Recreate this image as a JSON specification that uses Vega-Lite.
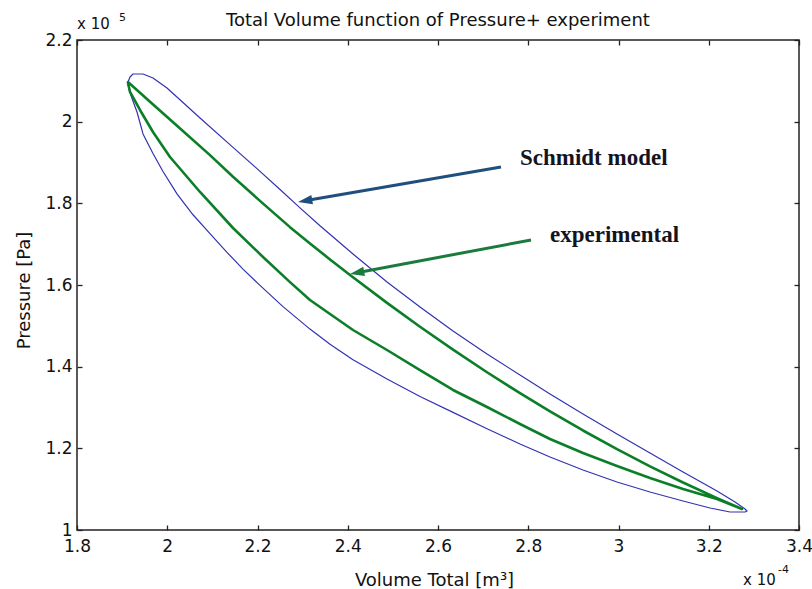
{
  "$schema": "https://vega.github.io/schema/vega-lite/v6.json",
  "width": 722,
  "height": 490,
  "autosize": "none",
  "padding": {"left": 77, "top": 40, "right": 13, "bottom": 59},
  "background": "white",
  "title": {"text": "Total Volume function of Pressure+ experiment", "font": "DejaVu Sans", "fontSize": 18, "fontWeight": "normal", "color": "#111", "anchor": "middle", "dy": 22},
  "config": {
    "view": {"stroke": "#222", "strokeWidth": 1.5},
    "axis": {"grid": false, "domain": false, "tickColor": "#222", "tickWidth": 1.3, "tickSize": -5, "labelFont": "DejaVu Sans", "labelFontSize": 17, "labelColor": "#111", "titleFont": "DejaVu Sans", "titleFontSize": 18, "titleFontWeight": "normal", "titleColor": "#111", "labelFlush": false, "labelOverlap": false, "labelBound": false}
  },
  "resolve": {"axis": {"x": "independent", "y": "independent"}},
  "datasets": {
    "curves": [
      {"model": "Schmidt model", "order": 0, "volume": 1.9130, "pressure": 2.0971},
      {"model": "Schmidt model", "order": 1, "volume": 1.9175, "pressure": 2.1094},
      {"model": "Schmidt model", "order": 2, "volume": 1.9241, "pressure": 2.1167},
      {"model": "Schmidt model", "order": 3, "volume": 1.9463, "pressure": 2.1167},
      {"model": "Schmidt model", "order": 4, "volume": 1.9684, "pressure": 2.1069},
      {"model": "Schmidt model", "order": 5, "volume": 1.9994, "pressure": 2.0824},
      {"model": "Schmidt model", "order": 6, "volume": 2.0349, "pressure": 2.0470},
      {"model": "Schmidt model", "order": 7, "volume": 2.0726, "pressure": 2.0090},
      {"model": "Schmidt model", "order": 8, "volume": 2.1457, "pressure": 1.9370},
      {"model": "Schmidt model", "order": 9, "volume": 2.1989, "pressure": 1.8850},
      {"model": "Schmidt model", "order": 10, "volume": 2.2499, "pressure": 1.8340},
      {"model": "Schmidt model", "order": 11, "volume": 2.2942, "pressure": 1.7890},
      {"model": "Schmidt model", "order": 12, "volume": 2.3385, "pressure": 1.7450},
      {"model": "Schmidt model", "order": 13, "volume": 2.4116, "pressure": 1.6760},
      {"model": "Schmidt model", "order": 14, "volume": 2.4870, "pressure": 1.6073},
      {"model": "Schmidt model", "order": 15, "volume": 2.5601, "pressure": 1.5461},
      {"model": "Schmidt model", "order": 16, "volume": 2.6333, "pressure": 1.4873},
      {"model": "Schmidt model", "order": 17, "volume": 2.7086, "pressure": 1.4310},
      {"model": "Schmidt model", "order": 18, "volume": 2.7817, "pressure": 1.3796},
      {"model": "Schmidt model", "order": 19, "volume": 2.8482, "pressure": 1.3331},
      {"model": "Schmidt model", "order": 20, "volume": 2.9213, "pressure": 1.2841},
      {"model": "Schmidt model", "order": 21, "volume": 2.9967, "pressure": 1.2351},
      {"model": "Schmidt model", "order": 22, "volume": 3.0698, "pressure": 1.1886},
      {"model": "Schmidt model", "order": 23, "volume": 3.1430, "pressure": 1.1420},
      {"model": "Schmidt model", "order": 24, "volume": 3.2183, "pressure": 1.0955},
      {"model": "Schmidt model", "order": 25, "volume": 3.2582, "pressure": 1.0686},
      {"model": "Schmidt model", "order": 26, "volume": 3.2804, "pressure": 1.0514},
      {"model": "Schmidt model", "order": 27, "volume": 3.2848, "pressure": 1.0465},
      {"model": "Schmidt model", "order": 28, "volume": 3.2804, "pressure": 1.0441},
      {"model": "Schmidt model", "order": 29, "volume": 3.2471, "pressure": 1.0441},
      {"model": "Schmidt model", "order": 30, "volume": 3.2028, "pressure": 1.0539},
      {"model": "Schmidt model", "order": 31, "volume": 3.1430, "pressure": 1.0710},
      {"model": "Schmidt model", "order": 32, "volume": 3.0698, "pressure": 1.0930},
      {"model": "Schmidt model", "order": 33, "volume": 2.9967, "pressure": 1.1175},
      {"model": "Schmidt model", "order": 34, "volume": 2.9213, "pressure": 1.1469},
      {"model": "Schmidt model", "order": 35, "volume": 2.8482, "pressure": 1.1788},
      {"model": "Schmidt model", "order": 36, "volume": 2.7817, "pressure": 1.2106},
      {"model": "Schmidt model", "order": 37, "volume": 2.7086, "pressure": 1.2480},
      {"model": "Schmidt model", "order": 38, "volume": 2.6333, "pressure": 1.2880},
      {"model": "Schmidt model", "order": 39, "volume": 2.5601, "pressure": 1.3270},
      {"model": "Schmidt model", "order": 40, "volume": 2.4870, "pressure": 1.3700},
      {"model": "Schmidt model", "order": 41, "volume": 2.4116, "pressure": 1.4170},
      {"model": "Schmidt model", "order": 42, "volume": 2.3607, "pressure": 1.4550},
      {"model": "Schmidt model", "order": 43, "volume": 2.3163, "pressure": 1.4920},
      {"model": "Schmidt model", "order": 44, "volume": 2.2565, "pressure": 1.5470},
      {"model": "Schmidt model", "order": 45, "volume": 2.2055, "pressure": 1.5990},
      {"model": "Schmidt model", "order": 46, "volume": 2.1679, "pressure": 1.6390},
      {"model": "Schmidt model", "order": 47, "volume": 2.1324, "pressure": 1.6800},
      {"model": "Schmidt model", "order": 48, "volume": 2.0947, "pressure": 1.7260},
      {"model": "Schmidt model", "order": 49, "volume": 2.0571, "pressure": 1.7720},
      {"model": "Schmidt model", "order": 50, "volume": 2.0216, "pressure": 1.8230},
      {"model": "Schmidt model", "order": 51, "volume": 1.9906, "pressure": 1.8780},
      {"model": "Schmidt model", "order": 52, "volume": 1.9684, "pressure": 1.9220},
      {"model": "Schmidt model", "order": 53, "volume": 1.9463, "pressure": 1.9700},
      {"model": "Schmidt model", "order": 54, "volume": 1.9330, "pressure": 2.0237},
      {"model": "Schmidt model", "order": 55, "volume": 1.9175, "pressure": 2.0702},
      {"model": "Schmidt model", "order": 56, "volume": 1.9130, "pressure": 2.0922},
      {"model": "Schmidt model", "order": 57, "volume": 1.9130, "pressure": 2.0971},
      {"model": "experimental", "order": 0, "volume": 1.9130, "pressure": 2.0971},
      {"model": "experimental", "order": 1, "volume": 1.9618, "pressure": 2.0490},
      {"model": "experimental", "order": 2, "volume": 2.0216, "pressure": 1.9900},
      {"model": "experimental", "order": 3, "volume": 2.0947, "pressure": 1.9180},
      {"model": "experimental", "order": 4, "volume": 2.1457, "pressure": 1.8650},
      {"model": "experimental", "order": 5, "volume": 2.2055, "pressure": 1.8060},
      {"model": "experimental", "order": 6, "volume": 2.2720, "pressure": 1.7417},
      {"model": "experimental", "order": 7, "volume": 2.3163, "pressure": 1.7018},
      {"model": "experimental", "order": 8, "volume": 2.3607, "pressure": 1.6626},
      {"model": "experimental", "order": 9, "volume": 2.4050, "pressure": 1.6245},
      {"model": "experimental", "order": 10, "volume": 2.4870, "pressure": 1.5562},
      {"model": "experimental", "order": 11, "volume": 2.5601, "pressure": 1.4977},
      {"model": "experimental", "order": 12, "volume": 2.6333, "pressure": 1.4416},
      {"model": "experimental", "order": 13, "volume": 2.7086, "pressure": 1.3863},
      {"model": "experimental", "order": 14, "volume": 2.7817, "pressure": 1.3350},
      {"model": "experimental", "order": 15, "volume": 2.8482, "pressure": 1.2905},
      {"model": "experimental", "order": 16, "volume": 2.9213, "pressure": 1.2437},
      {"model": "experimental", "order": 17, "volume": 2.9967, "pressure": 1.1980},
      {"model": "experimental", "order": 18, "volume": 3.0698, "pressure": 1.1560},
      {"model": "experimental", "order": 19, "volume": 3.1430, "pressure": 1.1164},
      {"model": "experimental", "order": 20, "volume": 3.2183, "pressure": 1.0781},
      {"model": "experimental", "order": 21, "volume": 3.2737, "pressure": 1.0514},
      {"model": "experimental", "order": 22, "volume": 3.2183, "pressure": 1.0759},
      {"model": "experimental", "order": 23, "volume": 3.1430, "pressure": 1.1004},
      {"model": "experimental", "order": 24, "volume": 3.0698, "pressure": 1.1273},
      {"model": "experimental", "order": 25, "volume": 2.9967, "pressure": 1.1567},
      {"model": "experimental", "order": 26, "volume": 2.9213, "pressure": 1.1886},
      {"model": "experimental", "order": 27, "volume": 2.8482, "pressure": 1.2229},
      {"model": "experimental", "order": 28, "volume": 2.7817, "pressure": 1.2596},
      {"model": "experimental", "order": 29, "volume": 2.7086, "pressure": 1.3012},
      {"model": "experimental", "order": 30, "volume": 2.6333, "pressure": 1.3429},
      {"model": "experimental", "order": 31, "volume": 2.5601, "pressure": 1.3918},
      {"model": "experimental", "order": 32, "volume": 2.4870, "pressure": 1.4408},
      {"model": "experimental", "order": 33, "volume": 2.4116, "pressure": 1.4898},
      {"model": "experimental", "order": 34, "volume": 2.3607, "pressure": 1.5290},
      {"model": "experimental", "order": 35, "volume": 2.3163, "pressure": 1.5633},
      {"model": "experimental", "order": 36, "volume": 2.2720, "pressure": 1.6070},
      {"model": "experimental", "order": 37, "volume": 2.2122, "pressure": 1.6686},
      {"model": "experimental", "order": 38, "volume": 2.1457, "pressure": 1.7396},
      {"model": "experimental", "order": 39, "volume": 2.0726, "pressure": 1.8278},
      {"model": "experimental", "order": 40, "volume": 2.0061, "pressure": 1.9135},
      {"model": "experimental", "order": 41, "volume": 1.9684, "pressure": 1.9747},
      {"model": "experimental", "order": 42, "volume": 1.9396, "pressure": 2.0286},
      {"model": "experimental", "order": 43, "volume": 1.9175, "pressure": 2.0727},
      {"model": "experimental", "order": 44, "volume": 1.9130, "pressure": 2.0947}
    ]
  },
  "layer": [
    {
      "data": {"name": "curves"},
      "mark": {"type": "line", "strokeJoin": "round", "strokeCap": "round"},
      "encoding": {
        "x": {"field": "volume", "type": "quantitative", "scale": {"domain": [1.8, 3.4], "nice": false, "zero": false},
          "axis": {"orient": "bottom", "values": [1.8, 2, 2.2, 2.4, 2.6, 2.8, 3, 3.2, 3.4], "format": "~g", "labelPadding": 13, "title": "Volume Total [m³]", "titleX": 357, "titleY": 55, "titleAlign": "center", "titleBaseline": "alphabetic"}},
        "y": {"field": "pressure", "type": "quantitative", "scale": {"domain": [1, 2.2], "nice": false, "zero": false},
          "axis": {"orient": "left", "values": [1, 1.2, 1.4, 1.6, 1.8, 2, 2.2], "format": "~g", "labelPadding": 10, "title": "Pressure [Pa]", "titleAngle": -90, "titleX": -48, "titleY": 250, "titleAlign": "center", "titleBaseline": "alphabetic"}},
        "detail": {"field": "model"},
        "order": {"field": "order", "type": "quantitative"},
        "color": {"field": "model", "type": "nominal", "scale": {"domain": ["Schmidt model", "experimental"], "range": ["#3232b4", "#0b7f27"]}, "legend": null},
        "strokeWidth": {"field": "model", "type": "nominal", "scale": {"domain": ["Schmidt model", "experimental"], "range": [1.2, 2.6]}, "legend": null}
      }
    },
    {
      "data": {"values": [{}]},
      "mark": {"type": "rule", "color": "#1f4f7c", "strokeWidth": 3},
      "encoding": {
        "x": {"datum": 2.7396, "type": "quantitative", "scale": {"domain": [1.8, 3.4], "nice": false, "zero": false},
          "axis": {"orient": "top", "values": [1.8, 2, 2.2, 2.4, 2.6, 2.8, 3, 3.2, 3.4], "labels": false, "title": null}},
        "y": {"datum": 1.889, "type": "quantitative", "scale": {"domain": [1, 2.2], "nice": false, "zero": false},
          "axis": {"orient": "right", "values": [1, 1.2, 1.4, 1.6, 1.8, 2, 2.2], "labels": false, "title": null}},
        "x2": {"datum": 2.305},
        "y2": {"datum": 1.8062}
      }
    },
    {
      "data": {"values": [{}]},
      "mark": {"type": "rule", "color": "#1b7a3e", "strokeWidth": 3},
      "encoding": {
        "x": {"datum": 2.8061, "type": "quantitative", "scale": {"domain": [1.8, 3.4], "nice": false, "zero": false}, "axis": null},
        "y": {"datum": 1.7102, "type": "quantitative", "scale": {"domain": [1, 2.2], "nice": false, "zero": false}, "axis": null},
        "x2": {"datum": 2.4203},
        "y2": {"datum": 1.6301}
      }
    },
    {
      "data": {"values": [{}]},
      "mark": {"type": "point", "shape": "M0,0L0.72,2.2L-0.72,2.2Z", "size": 170, "angle": 260.2, "filled": true, "opacity": 1, "color": "#1f4f7c", "strokeWidth": 0},
      "encoding": {
        "x": {"datum": 2.2898, "type": "quantitative", "scale": {"domain": [1.8, 3.4], "nice": false, "zero": false}, "axis": null},
        "y": {"datum": 1.8033, "type": "quantitative", "scale": {"domain": [1, 2.2], "nice": false, "zero": false}, "axis": null}
      }
    },
    {
      "data": {"values": [{}]},
      "mark": {"type": "point", "shape": "M0,0L0.72,2.2L-0.72,2.2Z", "size": 170, "angle": 259.4, "filled": true, "opacity": 1, "color": "#1b7a3e", "strokeWidth": 0},
      "encoding": {
        "x": {"datum": 2.405, "type": "quantitative", "scale": {"domain": [1.8, 3.4], "nice": false, "zero": false}, "axis": null},
        "y": {"datum": 1.6269, "type": "quantitative", "scale": {"domain": [1, 2.2], "nice": false, "zero": false}, "axis": null}
      }
    },
    {
      "data": {"values": [{}]},
      "mark": {"type": "text", "text": "Schmidt model", "align": "left", "baseline": "alphabetic", "font": "Liberation Serif", "fontWeight": "bold", "fontSize": 23, "color": "#14141e"},
      "encoding": {
        "x": {"datum": 2.7817, "type": "quantitative", "scale": {"domain": [1.8, 3.4], "nice": false, "zero": false}, "axis": null},
        "y": {"datum": 1.8939, "type": "quantitative", "scale": {"domain": [1, 2.2], "nice": false, "zero": false}, "axis": null}
      }
    },
    {
      "data": {"values": [{}]},
      "mark": {"type": "text", "text": "experimental", "align": "left", "baseline": "alphabetic", "font": "Liberation Serif", "fontWeight": "bold", "fontSize": 23, "color": "#14141e"},
      "encoding": {
        "x": {"datum": 2.8482, "type": "quantitative", "scale": {"domain": [1.8, 3.4], "nice": false, "zero": false}, "axis": null},
        "y": {"datum": 1.7053, "type": "quantitative", "scale": {"domain": [1, 2.2], "nice": false, "zero": false}, "axis": null}
      }
    },
    {
      "data": {"values": [{}]},
      "mark": {"type": "text", "text": "x 10", "align": "left", "baseline": "alphabetic", "font": "DejaVu Sans", "fontSize": 15, "color": "#111"},
      "encoding": {
        "x": {"datum": 1.8, "type": "quantitative", "scale": {"domain": [1.8, 3.4], "nice": false, "zero": false}, "axis": null},
        "y": {"datum": 2.2269, "type": "quantitative", "scale": {"domain": [1, 2.2], "nice": false, "zero": false}, "axis": null}
      }
    },
    {
      "data": {"values": [{}]},
      "mark": {"type": "text", "text": "5", "align": "left", "baseline": "alphabetic", "font": "DejaVu Sans", "fontSize": 11, "color": "#111"},
      "encoding": {
        "x": {"datum": 1.8931, "type": "quantitative", "scale": {"domain": [1.8, 3.4], "nice": false, "zero": false}, "axis": null},
        "y": {"datum": 2.2465, "type": "quantitative", "scale": {"domain": [1, 2.2], "nice": false, "zero": false}, "axis": null}
      }
    },
    {
      "data": {"values": [{}]},
      "mark": {"type": "text", "text": "x 10", "align": "left", "baseline": "alphabetic", "font": "DejaVu Sans", "fontSize": 15, "color": "#111"},
      "encoding": {
        "x": {"datum": 3.2759, "type": "quantitative", "scale": {"domain": [1.8, 3.4], "nice": false, "zero": false}, "axis": null},
        "y": {"datum": 0.8653, "type": "quantitative", "scale": {"domain": [1, 2.2], "nice": false, "zero": false}, "axis": null}
      }
    },
    {
      "data": {"values": [{}]},
      "mark": {"type": "text", "text": "-4", "align": "left", "baseline": "alphabetic", "font": "DejaVu Sans", "fontSize": 11, "color": "#111"},
      "encoding": {
        "x": {"datum": 3.3535, "type": "quantitative", "scale": {"domain": [1.8, 3.4], "nice": false, "zero": false}, "axis": null},
        "y": {"datum": 0.8947, "type": "quantitative", "scale": {"domain": [1, 2.2], "nice": false, "zero": false}, "axis": null}
      }
    }
  ]
}
